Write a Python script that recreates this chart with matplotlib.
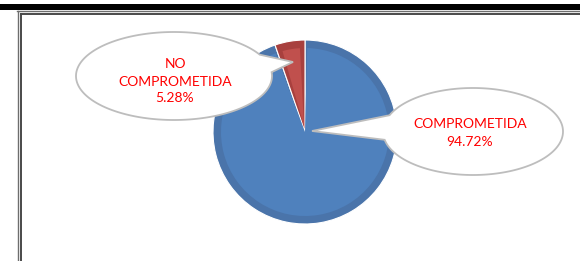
import numpy as np
import matplotlib.pyplot as plt
from matplotlib.patches import Polygon, Rectangle

# data
labels = ['COMPROMETIDA', 'NO COMPROMETIDA']
values = [94.72, 5.28]
label_text = ['COMPROMETIDA\n94.72%', 'NO\nCOMPROMETIDA\n5.28%']
dark_colors = ['#4A74AA', '#A8403E']
light_colors = ['#4F81BD', '#C0504D']

W, H = 580, 261


def py(y):
    # pixel row (top-down) -> axis y (bottom-up)
    return H - y


def callout(ax, cx, cy, a, b, t1, t2, tip):
    th = np.radians(np.linspace(t2, t1 + 360, 300))
    pts = np.column_stack([cx + a * np.cos(th), py(cy) + b * np.sin(th)])
    pts = np.vstack([pts, [tip[0], py(tip[1])]])
    ax.add_patch(Polygon(pts, closed=True, facecolor='white',
                         edgecolor='#BDBDBD', linewidth=1.3, zorder=5))


fig = plt.figure(figsize=(W / 100, H / 100), dpi=100)
ax = fig.add_axes([0, 0, 1, 1])

# frame
ax.add_patch(Rectangle((0, py(10)), W, 6, color='black', lw=0, zorder=1))
ax.plot([17, W], [py(11), py(11)], color='#6E6E6E', lw=1.0, zorder=1)
ax.plot([20.5, W], [py(13.5), py(13.5)], color='#4A4A4A', lw=1.4, zorder=1)
ax.plot([17.5, 17.5], [0, py(11)], color='#6E6E6E', lw=1.0, zorder=1)
ax.plot([20.5, 20.5], [0, py(13.5)], color='#4A4A4A', lw=1.4, zorder=1)

# pie
cx, cy, r = 305, py(132), 92
ax.pie(values, colors=dark_colors, startangle=90, counterclock=False,
       radius=r, center=(cx, cy),
       wedgeprops=dict(edgecolor='white', linewidth=0.8, zorder=2))
inner, _ = ax.pie(values, colors=light_colors, startangle=90, counterclock=False,
                  radius=r - 8, center=(cx, cy),
                  wedgeprops=dict(linewidth=0, zorder=3))
for w in inner:
    t1, t2 = w.theta1, w.theta2
    small = (t2 - t1) < 60
    d = 3.0 if small else 1.5
    shift = 6 if small else 0
    mid = np.radians((t1 + t2) / 2)
    w.set_theta1(t1 + d)
    w.set_theta2(t2 - d)
    w.set_center((cx + shift * np.cos(mid), cy + shift * np.sin(mid)))
    if small:
        w.set_radius(r - 8 - shift)

# callouts
callout(ax, 174, 76, 98, 44, 5, 29, (293, 62))
callout(ax, 473, 131.5, 90, 43.5, 158, 191, (312, 131))

font = ['Lato', 'DejaVu Sans']
ax.text(175, py(81.5), label_text[1], color='#FF0000', fontsize=10,
        family=font, ha='center', va='center', linespacing=1.5, zorder=6)
ax.text(470, py(133), label_text[0], color='#FF0000', fontsize=10,
        family=font, ha='center', va='center', linespacing=1.5, zorder=6)

ax.set_xlim(0, W)
ax.set_ylim(0, H)
ax.set_aspect('auto')
ax.axis('off')

plt.savefig('out.png', dpi=100)
